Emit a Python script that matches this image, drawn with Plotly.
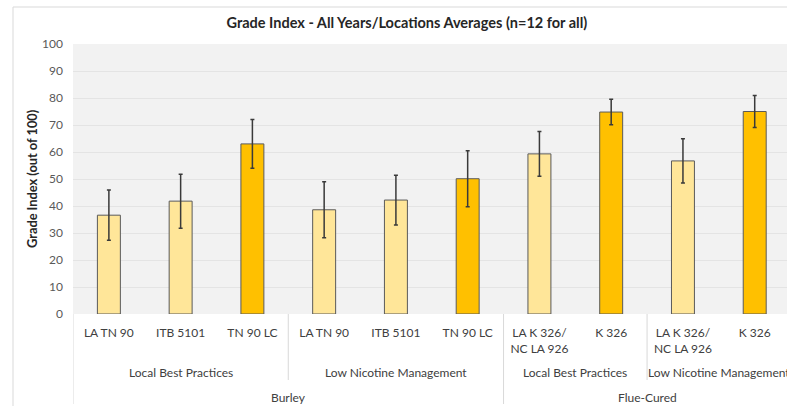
import plotly.graph_objects as go

# Grade index averages
varieties = ["LA TN 90", "ITB 5101", "TN 90 LC",
             "LA TN 90", "ITB 5101", "TN 90 LC",
             "LA K 326/<br>NC LA 926", "K 326",
             "LA K 326/<br>NC LA 926", "K 326"]
grade_index = [36.6, 41.8, 63.0, 38.6, 42.2, 50.1, 59.3, 74.8, 56.7, 75.0]
std_err = [9.3, 10.0, 9.0, 10.4, 9.2, 10.4, 8.3, 4.7, 8.2, 5.9]
is_lc = [False, False, True, False, False, True, False, True, False, True]

practices = ["Local Best Practices", "Low Nicotine Management",
             "Local Best Practices", "Low Nicotine Management"]
practice_span = [(0, 2), (3, 5), (6, 7), (8, 9)]
tobacco_types = ["Burley", "Flue-Cured"]
type_span = [(0, 5), (6, 9)]

light = "#FFE699"
gold = "#FFC000"
txt = "#404040"
font = "Lato"

x = list(range(len(varieties)))

fig = go.Figure()
fig.add_trace(go.Bar(
    x=x,
    y=grade_index,
    width=0.32,
    marker=dict(color=[gold if c else light for c in is_lc],
                line=dict(color="#5a5a5a", width=1)),
    error_y=dict(type="data", array=std_err, visible=True,
                 color="#3a3a3a", thickness=1.5, width=2),
    showlegend=False,
))

fig.update_layout(
    width=787, height=407,
    margin=dict(l=73, r=0, t=44, b=93, autoexpand=False),
    paper_bgcolor="white",
    plot_bgcolor="#F2F2F2",
    font=dict(family=font, size=12, color=txt),
    title=dict(text="<b>Grade Index - All Years/Locations Averages (n=12 for all)</b>",
               x=0.517, xanchor="center", y=1 - 23 / 407, yanchor="middle",
               font=dict(size=14.5, color="#262626")),
)

fig.update_yaxes(range=[0, 100], dtick=10, showgrid=True, gridcolor="#E4E4E4",
                 gridwidth=1, zeroline=False, showline=False, automargin=False,
                 tickfont=dict(size=12, color="#595959"), ticklabelstandoff=9)
fig.update_xaxes(range=[-0.5, 9.45], tickvals=x, ticktext=varieties,
                 showgrid=False, zeroline=False, showline=False, tickangle=0,
                 tickfont=dict(size=12, color=txt), ticklabelstandoff=10,
                 automargin=False, domain=[0, 1])

# y axis title
fig.add_annotation(text="<b>Grade Index (out of 100)</b>", textangle=-90,
                   x=(32 - 73) / 714, y=0.5, xref="paper", yref="paper",
                   xanchor="center", yanchor="middle", showarrow=False,
                   font=dict(size=12.8, color="#262626"))

# second level labels
for name, (a, b) in zip(practices, practice_span):
    fig.add_annotation(text=name, x=(a + b) / 2, y=-(372 - 314) / 270,
                       xref="x", yref="paper", showarrow=False,
                       xanchor="center", yanchor="middle",
                       font=dict(size=12, color=txt))
# third level labels
for name, (a, b) in zip(tobacco_types, type_span):
    fig.add_annotation(text=name, x=(a + b) / 2, y=-(397 - 314) / 270,
                       xref="x", yref="paper", showarrow=False,
                       xanchor="center", yanchor="middle",
                       font=dict(size=12, color=txt))

# separators of the multi-level axis
sep = "#D9D9D9"
for xb, bottom in [(-0.5, 404), (2.5, 380), (5.5, 404), (7.5, 380)]:
    fig.add_shape(type="line", xref="x", yref="paper", x0=xb, x1=xb,
                  y0=0, y1=-(bottom - 314) / 270, line=dict(color=sep, width=1))

# chart area border (cropped on the right and bottom)
bx = (13 - 73) / 714
by = (314 - 7) / 270
fig.add_shape(type="line", xref="paper", yref="paper", x0=bx, x1=bx,
              y0=-(406 - 314) / 270, y1=by, line=dict(color=sep, width=1))
fig.add_shape(type="line", xref="paper", yref="paper", x0=bx, x1=1.0,
              y0=by, y1=by, line=dict(color=sep, width=1))

fig.write_html("out.html", config={"displayModeBar": False},
               post_script="document.body.style.margin='0';"
                           "document.body.style.overflow='hidden';"
                           "document.documentElement.style.overflow='hidden';")
